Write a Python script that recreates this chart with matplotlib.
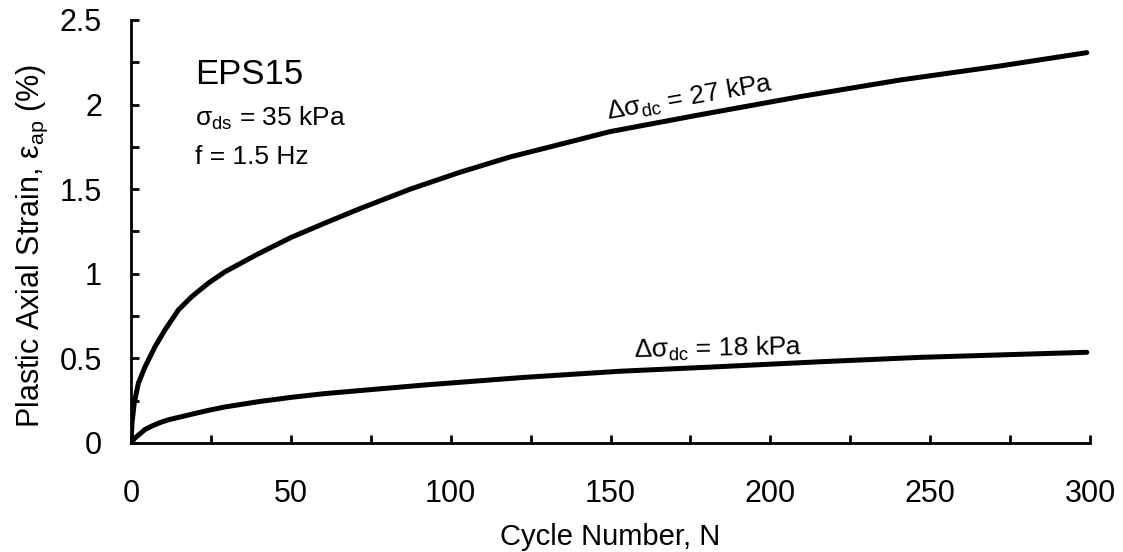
import matplotlib
matplotlib.use("Agg")
import matplotlib.pyplot as plt
import numpy as np

plt.rcParams['font.family'] = ['Liberation Sans', 'DejaVu Sans']
plt.rcParams['mathtext.fontset'] = 'custom'
plt.rcParams['mathtext.rm'] = 'Liberation Sans'
plt.rcParams['mathtext.it'] = 'Liberation Sans:italic'
plt.rcParams['mathtext.bf'] = 'Liberation Sans:bold'

# Data
cycles_27 = [0, 0.3, 1, 2.3, 4.4, 7.5, 10.6, 14.8, 19, 24.2, 29.4, 39.8, 50.2, 60.7,
             71.6, 87.3, 102.9, 118.5, 134.2, 149.8, 178, 209.3, 240.5, 271.8, 299]
strain_27 = [0.0, 0.12, 0.236, 0.354, 0.451, 0.569, 0.668, 0.786, 0.865, 0.945, 1.012, 1.118,
             1.216, 1.30, 1.385, 1.50, 1.60, 1.69, 1.765, 1.84, 1.94, 2.047,
             2.145, 2.228, 2.307]

cycles_18 = [0, 1, 2.3, 4.4, 6.5, 9, 11.7, 15, 19, 24, 29.4, 39.8, 50.2, 60.7, 92, 123.2,
             153, 184, 215.5, 246.8, 278, 299]
strain_18 = [0.0, 0.025, 0.047, 0.08, 0.1, 0.12, 0.137, 0.152, 0.17, 0.192, 0.213, 0.244,
             0.27, 0.292, 0.343, 0.388, 0.424, 0.451, 0.48, 0.506, 0.524, 0.536]

x_ticks = [0, 50, 100, 150, 200, 250, 300]
y_ticks = [0, 0.5, 1, 1.5, 2, 2.5]
y_tick_labels = ['0', '0.5', '1', '1.5', '2', '2.5']

fig = plt.figure(figsize=(11.23, 5.52), dpi=100)
ax = fig.add_axes([0.1167, 0.1975, 0.8539, 0.7663])

ax.plot(cycles_27, strain_27, color='black', lw=3.6, solid_capstyle='round', solid_joinstyle='round')
ax.plot(cycles_18, strain_18, color='black', lw=3.6, solid_capstyle='round', solid_joinstyle='round')

ax.set_xlim(0, 300)
ax.set_ylim(0, 2.5)
ax.set_xticks(x_ticks)
ax.set_xticks(np.arange(0, 301, 25), minor=True)
ax.set_yticks(y_ticks)
ax.set_yticklabels(y_tick_labels)
ax.set_yticks(np.arange(0, 2.51, 0.25), minor=True)

for s in ['top', 'right']:
    ax.spines[s].set_visible(False)
for s in ['left', 'bottom']:
    ax.spines[s].set_linewidth(2.0)

ax.tick_params(axis='both', which='both', direction='in', length=5.5, width=2.0, labelsize=22)
ax.tick_params(axis='x', which='major', direction='in', pad=26)
ax.tick_params(axis='y', which='major', direction='in', pad=21)

ax.set_xlabel('Cycle Number, N', fontsize=21, labelpad=10)
ax.set_ylabel(r'Plastic Axial Strain, $\mathrm{\varepsilon}_{\rm ap}$ (%)', fontsize=22, labelpad=7)
ax.yaxis.label.set_y(0.465)

ax.text(20, 2.175, 'EPS15', fontsize=25, ha='left', va='center')
ax.text(20, 1.92, r'$\mathrm{\sigma}_{\rm ds}$ = 35 kPa', fontsize=19, ha='left', va='center')
ax.text(20, 1.69, 'f = 1.5 Hz', fontsize=19, ha='left', va='center')

ax.text(174.8, 2.04, r'$\mathrm{\Delta\sigma}_{\rm dc}$ = 27 kPa', fontsize=19, ha='center', va='center', rotation=10)
ax.text(183.6, 0.555, r'$\mathrm{\Delta\sigma}_{\rm dc}$ = 18 kPa', fontsize=19, ha='center', va='center', rotation=1)

fig.savefig('out.png', dpi=100)
